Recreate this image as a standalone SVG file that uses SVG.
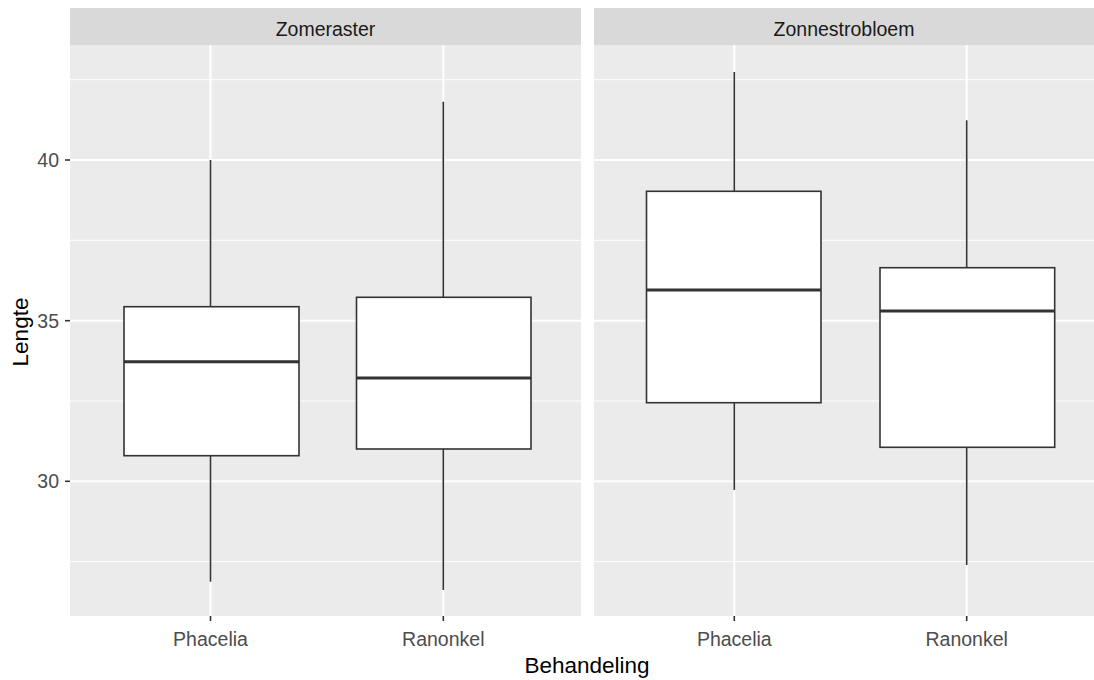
<svg xmlns="http://www.w3.org/2000/svg" width="1094" height="680" viewBox="0 0 1094 680">
<style>
.panel{fill:#ebebeb}
.strip{fill:#d9d9d9}
.gmaj{stroke:#ffffff;stroke-width:2}
.gmin{stroke:#ffffff;stroke-width:1}
.whisk{stroke:#333333;stroke-width:1.6;fill:none}
.box{fill:#ffffff;stroke:#333333;stroke-width:1.6}
.med{stroke:#333333;stroke-width:3}
.tick{stroke:#333333;stroke-width:1.6}
.tl{font-family:"Liberation Sans",Arial,sans-serif;font-size:19.5px;fill:#4d4d4d}
.st{font-family:"Liberation Sans",Arial,sans-serif;font-size:19.5px;fill:#1a1a1a;text-anchor:middle}
.ti{font-family:"Liberation Sans",Arial,sans-serif;font-size:22.5px;fill:#000000;text-anchor:middle}
</style>
<rect width="1094" height="680" fill="#ffffff"/>
<g id="panel-zomeraster">
<rect class="strip" x="70" y="8" width="511" height="37"/>
<text class="st" x="325.5" y="36">Zomeraster</text>
<rect class="panel" x="70" y="45" width="511" height="571"/>
<g>
<line class="gmin" x1="70" x2="581" y1="79.7" y2="79.7"/>
<line class="gmin" x1="70" x2="581" y1="240.3" y2="240.3"/>
<line class="gmin" x1="70" x2="581" y1="401" y2="401"/>
<line class="gmin" x1="70" x2="581" y1="561.6" y2="561.6"/>
<line class="gmaj" x1="70" x2="581" y1="160" y2="160"/>
<line class="gmaj" x1="70" x2="581" y1="320.7" y2="320.7"/>
<line class="gmaj" x1="70" x2="581" y1="481.3" y2="481.3"/>
<line class="gmaj" x1="210.5" x2="210.5" y1="45" y2="616"/>
<line class="gmaj" x1="443.3" x2="443.3" y1="45" y2="616"/>
</g>
<g id="box-zomeraster-phacelia">
<line class="whisk" x1="210.5" x2="210.5" y1="160" y2="306.7"/>
<line class="whisk" x1="210.5" x2="210.5" y1="455.7" y2="581.7"/>
<rect class="box" x="124" y="306.7" width="175" height="149"/>
<line class="med" x1="124" x2="299" y1="361.7" y2="361.7"/>
</g>
<g id="box-zomeraster-ranonkel">
<line class="whisk" x1="443.3" x2="443.3" y1="101.7" y2="297.3"/>
<line class="whisk" x1="443.3" x2="443.3" y1="449" y2="590"/>
<rect class="box" x="356.5" y="297.3" width="174.5" height="151.7"/>
<line class="med" x1="356.5" x2="531" y1="378" y2="378"/>
</g>
</g>
<g id="panel-zonnestrobloem">
<rect class="strip" x="594" y="8" width="500" height="37"/>
<text class="st" x="844" y="36">Zonnestrobloem</text>
<rect class="panel" x="594" y="45" width="500" height="571"/>
<g>
<line class="gmin" x1="594" x2="1094" y1="79.7" y2="79.7"/>
<line class="gmin" x1="594" x2="1094" y1="240.3" y2="240.3"/>
<line class="gmin" x1="594" x2="1094" y1="401" y2="401"/>
<line class="gmin" x1="594" x2="1094" y1="561.6" y2="561.6"/>
<line class="gmaj" x1="594" x2="1094" y1="160" y2="160"/>
<line class="gmaj" x1="594" x2="1094" y1="320.7" y2="320.7"/>
<line class="gmaj" x1="594" x2="1094" y1="481.3" y2="481.3"/>
<line class="gmaj" x1="734.3" x2="734.3" y1="45" y2="616"/>
<line class="gmaj" x1="966.7" x2="966.7" y1="45" y2="616"/>
</g>
<g id="box-zonnestrobloem-phacelia">
<line class="whisk" x1="734.3" x2="734.3" y1="72" y2="191.3"/>
<line class="whisk" x1="734.3" x2="734.3" y1="402.7" y2="490"/>
<rect class="box" x="646.5" y="191.3" width="174.5" height="211.4"/>
<line class="med" x1="646.5" x2="821" y1="290" y2="290"/>
</g>
<g id="box-zonnestrobloem-ranonkel">
<line class="whisk" x1="966.7" x2="966.7" y1="120.3" y2="267.7"/>
<line class="whisk" x1="966.7" x2="966.7" y1="447.3" y2="565"/>
<rect class="box" x="880" y="267.7" width="174.7" height="179.6"/>
<line class="med" x1="880" x2="1054.7" y1="311" y2="311"/>
</g>
</g>
<g id="axes">
<line class="tick" x1="65" x2="70" y1="160" y2="160"/>
<line class="tick" x1="65" x2="70" y1="320.7" y2="320.7"/>
<line class="tick" x1="65" x2="70" y1="481.3" y2="481.3"/>
<text class="tl" x="59" y="167" text-anchor="end">40</text>
<text class="tl" x="59" y="327.7" text-anchor="end">35</text>
<text class="tl" x="59" y="488.3" text-anchor="end">30</text>
<line class="tick" x1="210.5" x2="210.5" y1="616" y2="621"/>
<line class="tick" x1="443.3" x2="443.3" y1="616" y2="621"/>
<line class="tick" x1="734.3" x2="734.3" y1="616" y2="621"/>
<line class="tick" x1="966.7" x2="966.7" y1="616" y2="621"/>
<text class="tl" x="210.5" y="646" text-anchor="middle">Phacelia</text>
<text class="tl" x="443.3" y="646" text-anchor="middle">Ranonkel</text>
<text class="tl" x="734.3" y="646" text-anchor="middle">Phacelia</text>
<text class="tl" x="966.7" y="646" text-anchor="middle">Ranonkel</text>
<text class="ti" x="587" y="673">Behandeling</text>
<text class="ti" transform="translate(28,332) rotate(-90)">Lengte</text>
</g>
</svg>
